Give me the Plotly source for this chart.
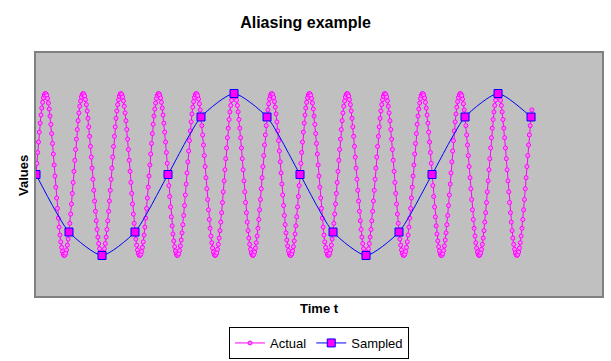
import numpy as np
import plotly.graph_objects as go

# Sampled series, one value per sample instant
sample_times = list(range(16))
sampled_values = [0.0, -0.71, -1.0, -0.71, 0.0, 0.71, 1.0, 0.71,
                  0.0, -0.71, -1.0, -0.71, 0.0, 0.71, 1.0, 0.71]

# Actual signal: a pure sinusoid (amplitude 1, 7/8 cycles per sample interval)
actual_amplitude = 1.0
actual_cycles_per_sample = 0.875
actual_step = 0.025
actual_end = 15.03
actual_times = np.arange(0, actual_end, actual_step)
actual_values = actual_amplitude * np.sin(2 * np.pi * actual_cycles_per_sample * actual_times)

series_names = ["Actual", "Sampled"]

fig = go.Figure()
fig.add_trace(go.Scatter(
    x=actual_times, y=actual_values, name=series_names[0], mode="lines+markers",
    line=dict(color="#FF00FF", width=1),
    marker=dict(symbol="circle", size=4, color="#FF88FF",
                line=dict(color="#FF00FF", width=1)),
))
fig.add_trace(go.Scatter(
    x=sample_times, y=sampled_values, name=series_names[1], mode="lines+markers",
    line=dict(color="#0000FF", width=1, shape="spline", smoothing=0.6),
    marker=dict(symbol="square", size=8, color="#FF00FF",
                line=dict(color="#0000FF", width=1)),
))

fig.update_layout(
    width=611, height=361,
    margin=dict(l=36, r=9, t=53, b=65, autoexpand=False),
    paper_bgcolor="white", plot_bgcolor="#C0C0C0",
    font=dict(family="Liberation Sans, Arial, sans-serif", color="black", size=13),
    title=dict(text="<b>Aliasing example</b>", x=0.5, xanchor="center",
               y=1 - 22 / 361, yanchor="middle", yref="container",
               font=dict(size=16, color="black")),
    showlegend=True,
    legend=dict(orientation="h", x=0.5, xanchor="center", yref="container",
                y=1 - 343 / 361, yanchor="middle",
                bordercolor="black", borderwidth=1, bgcolor="white",
                font=dict(size=13, color="black"), itemwidth=30,
                tracegroupgap=0),
    xaxis=dict(range=[0, 17.15], showticklabels=False, ticks="", showgrid=False,
               zeroline=False, showline=True, mirror=True, linecolor="#808080",
               linewidth=2, automargin=False),
    yaxis=dict(range=[-1.5, 1.5], showticklabels=False, ticks="", showgrid=False,
               zeroline=False, showline=True, mirror=True, linecolor="#808080",
               linewidth=2, automargin=False),
    annotations=[
        dict(text="<b>Time t</b>", x=0.5, xref="paper", y=(296 - 308) / (296 - 53),
             yref="paper", yanchor="middle", showarrow=False, font=dict(size=13)),
        dict(text="<b>Values</b>", x=(23 - 36) / (602 - 36), xref="paper",
             y=(296 - 176) / (296 - 53), yref="paper", xanchor="center",
             yanchor="middle", textangle=-90, showarrow=False, font=dict(size=13)),
    ],
)

fig.write_html("out.html", config={"displayModeBar": False},
               post_script="document.body.style.margin='0';document.body.style.overflow='hidden';")
